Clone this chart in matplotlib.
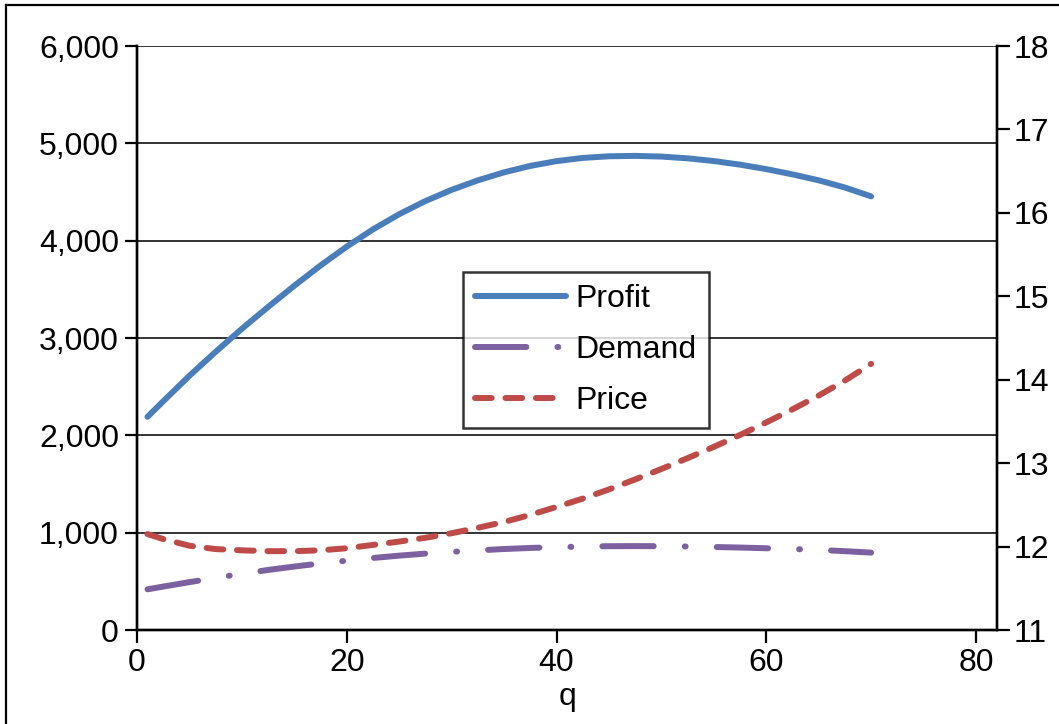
import matplotlib
matplotlib.use("Agg")
import matplotlib.pyplot as plt
from matplotlib.lines import Line2D
from matplotlib.ticker import FuncFormatter

plt.rcParams['font.family'] = ['Liberation Sans', 'DejaVu Sans']

q = [1, 2.5, 5, 7.5, 10, 12.5, 15, 17.5, 20, 22.5, 25, 27.5, 30, 32.5, 35,
     37.5, 40, 42.5, 45, 47.5, 50, 52.5, 55, 57.5, 60, 62.5, 65, 67.5, 70]
profit = [2190, 2350, 2612, 2858, 3095, 3319, 3537, 3745, 3939, 4116, 4272, 4407, 4522, 4620, 4702,
          4768, 4817, 4850, 4867, 4871, 4864, 4846, 4818, 4781, 4735, 4681, 4620, 4546, 4455]
demand = [418, 446, 492, 535, 578, 617, 652, 684, 712, 740, 764, 785, 803, 818, 832,
          843, 851, 857, 861, 862, 861, 858, 853, 847, 840, 832, 823, 810, 795]
price = [12.15, 12.09, 12.01, 11.97, 11.955, 11.945, 11.945, 11.955, 11.98, 12.02, 12.06, 12.105, 12.16, 12.225, 12.295,
         12.38, 12.475, 12.575, 12.685, 12.805, 12.93, 13.06, 13.195, 13.338, 13.488, 13.645, 13.81, 13.99, 14.19]

left_ticks = [0, 1000, 2000, 3000, 4000, 5000, 6000]
right_ticks = [11, 12, 13, 14, 15, 16, 17, 18]
x_ticks = [0, 20, 40, 60, 80]

W, H = 1059, 724
fig = plt.figure(figsize=(W / 100, H / 100), dpi=100)
ax = fig.add_axes([137 / W, 1 - 630 / H, (997 - 137) / W, (630 - 46) / H])
ax2 = ax.twinx()

lw = 4.3
c_profit = '#4A7EBB'
c_demand = '#7D60A0'
c_price = '#BE4B48'

lpr, = ax.plot(q, profit, color=c_profit, lw=lw, solid_capstyle='round',
               solid_joinstyle='round', label='Profit', zorder=5)
ld, = ax.plot(q, demand, color=c_demand, lw=lw, dash_capstyle='round',
              linestyle=(0, (8.6, 5.2, 0.15, 5.2)), label='Demand', zorder=5)
lp, = ax2.plot(q, price, color=c_price, lw=lw, dash_capstyle='round',
               linestyle=(0, (2.8, 2.3)), label='Price', zorder=5)

ax.set_xlim(0, 82)
ax.set_ylim(0, 6000)
ax2.set_ylim(11, 18)
ax.set_xticks(x_ticks)
ax.set_yticks(left_ticks)
ax2.set_yticks(right_ticks)
ax.yaxis.set_major_formatter(FuncFormatter(lambda v, p: f"{int(v):,}"))

ax.grid(axis='y', color='#111111', lw=1.2)
ax.set_axisbelow(True)

fs = 23
for a in (ax, ax2):
    a.tick_params(axis='both', direction='out', length=9, width=1.6,
                  labelsize=fs, colors='black', pad=4)
    a.spines['top'].set_visible(False)
    for s in ('left', 'right', 'bottom'):
        a.spines[s].set_linewidth(1.7)
        a.spines[s].set_color('black')
ax2.tick_params(axis='y', pad=3)

ax.set_xlabel('q', fontsize=fs, labelpad=3)

leg = fig.legend([lpr, ld, lp], ['Profit', 'Demand', 'Price'],
                 loc='upper left', bbox_to_anchor=(463 / W, 1 - 272 / H),
                 bbox_transform=fig.transFigure, fontsize=23,
                 frameon=True, fancybox=False, edgecolor='black',
                 handlelength=2.85, handletextpad=0.3, labelspacing=0.66,
                 borderpad=0.38, borderaxespad=0)
leg.get_frame().set_linewidth(1.8)
leg.set_zorder(10)

# outer frame
fig.add_artist(Line2D([6 / W, 1.0], [1 - 5 / H, 1 - 5 / H], transform=fig.transFigure,
                      color='black', lw=1.6))
fig.add_artist(Line2D([6 / W, 6 / W], [0, 1 - 5 / H], transform=fig.transFigure,
                      color='black', lw=1.6))

fig.savefig('out.png', dpi=100)
